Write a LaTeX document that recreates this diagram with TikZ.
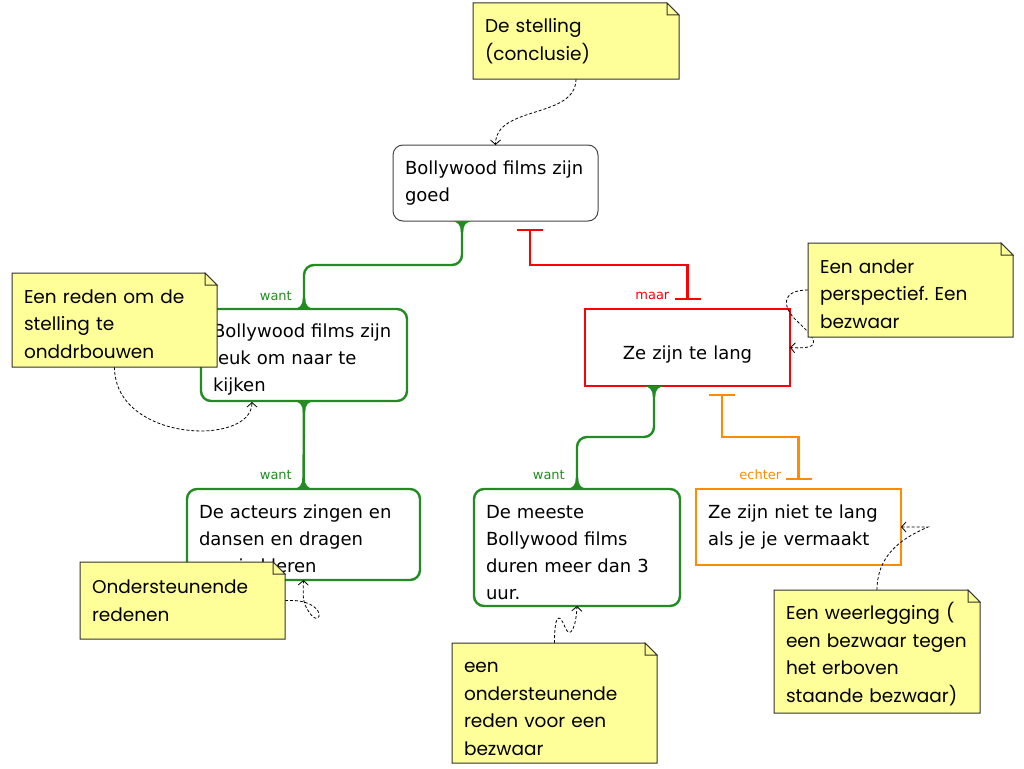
\documentclass[tikz,border=0pt]{standalone}
\usepackage{fontspec}
\setmainfont{DejaVu Sans}
\newfontfamily\notefont{Poppins}
\usetikzlibrary{arrows.meta,calc}
\definecolor{cgreen}{RGB}{34,139,34}
\definecolor{corange}{RGB}{255,140,0}
\definecolor{cred}{RGB}{255,0,0}
\definecolor{notefill}{RGB}{255,255,153}
\definecolor{noteline}{RGB}{50,50,50}
\definecolor{mainline}{RGB}{70,70,70}
\frenchspacing
\pgfdeclarelayer{nf}\pgfdeclarelayer{nt}\pgfsetlayers{main,nf,nt}
\newcommand\myflare[3]{\fill[#1,shift={#2},yscale=#3] (-12,0) .. controls (-4,0) and (-1.2,4) .. (-1.2,11) -- (1.2,11) .. controls (1.2,4) and (4,0) .. (12,0) -- cycle;}
\newcommand\noteshape[1]{%
  \filldraw[notebg] (#1.north west) -- ($(#1.north east)+(-12,0)$) -- ($(#1.north east)+(0,12)$) -- (#1.south east) -- (#1.south west) -- cycle;
  \filldraw[notebg] ($(#1.north east)+(-12,0)$) -- ($(#1.north east)+(-12,12)$) -- ($(#1.north east)+(0,12)$) -- cycle;}
\tikzset{
  noterule/.store in=\noterulesize, noterule=22pt,
  box/.style={anchor=north west, outer sep=0pt, inner xsep=12pt, inner ysep=3pt, align=left, font=\fontsize{18}{27}\selectfont},
  mainbox/.style={box, draw=mainline, line width=1pt, rounded corners=10pt},
  gbox/.style={box, draw=cgreen, line width=2.4pt, rounded corners=10pt, execute at begin node={\rule{0pt}{23pt}}},
  redbox/.style={box, draw=cred, line width=2.4pt, align=center, execute at begin node={\rule{0pt}{28pt}}},
  orbox/.style={box, draw=corange, line width=2.4pt},
  notetext/.style={anchor=north west, outer sep=0pt, inner xsep=12pt, inner ysep=3pt, align=left, font=\notefont\fontsize{18.5}{27.5}\selectfont, execute at begin node={\rule{0pt}{\noterulesize}}},
  shortnote/.style={noterule=8pt},
  notebg/.style={fill=notefill, draw=noteline, line width=1pt, line join=miter},
  gline/.style={draw=cgreen, line width=2.4pt, rounded corners=10pt},
  barline/.style={line width=2.4pt, {Bar[width=26pt]}-{Bar[width=26pt]}},
  lab/.style={font=\fontsize{13}{13}\selectfont, inner sep=0pt, anchor=east},
  notearrow/.style={black, line width=0.8pt, dash pattern=on 3pt off 2pt, -{Straight Barb[length=4.5pt,width=10pt]}}
}
\begin{document}
\begin{tikzpicture}[x=1pt,y=-1pt]
\useasboundingbox[fill=white] (0,0) rectangle (1024,768);
% main boxes
\node[mainbox, minimum width=205pt, minimum height=76pt, text width=181pt] (main) at (393,145) {Bollywood films zijn\\goed};
\node[gbox, minimum width=206pt, minimum height=92pt, text width=182pt] (n2) at (201,309) {Bollywood films zijn\\leuk om naar te\\kijken};
\node[gbox, minimum width=233pt, minimum height=91pt, text width=209pt] (n3) at (187,489) {De acteurs zingen en\\dansen en dragen\\mooie kleren};
\node[redbox, minimum width=205pt, minimum height=77pt, text width=181pt] (lang) at (585,309) {Ze zijn te lang};
\node[gbox, minimum width=206pt, minimum height=117pt, text width=182pt] (n4) at (474,489) {De meeste\\Bollywood films\\duren meer dan 3\\uur.};
\node[orbox, minimum width=205pt, minimum height=76pt, text width=181pt] (n5) at (696,489) {Ze zijn niet te lang\\als je je vermaakt};
% green connectors
\coordinate (g1s) at ($(main.south)+(-33.5,0)$);
\draw[gline] (g1s) -- ++(0,44) -| (n2.north);
\myflare{cgreen}{(g1s)}{1}
\myflare{cgreen}{(n2.north)}{-1}
\draw[gline] (n2.south) -- (n3.north);
\myflare{cgreen}{(n2.south)}{1}
\myflare{cgreen}{(n3.north)}{-1}
\coordinate (g3s) at ($(lang.south)+(-33.5,0)$);
\draw[gline] (g3s) -- ++(0,51) -| (n4.north);
\myflare{cgreen}{(g3s)}{1}
\myflare{cgreen}{(n4.north)}{-1}
% red and orange connectors
\coordinate (rs) at ($(main.south)+(34.5,8)$);
\coordinate (re) at ($(lang.north)+(0,-9)$);
\draw[barline, draw=cred] (rs) -- ++(0,36) -| (re);
\coordinate (os) at ($(lang.south)+(34.5,8)$);
\coordinate (oe) at ($(n5.north)+(0,-9)$);
\draw[barline, draw=corange] (os) -- ++(0,43) -| (oe);
% labels
\node[lab, text=cgreen] (l1) at ($(n2.north)+(-12,-13)$) {want};
\node[lab, text=cgreen] (l2) at ($(n3.north)+(-11.5,-14)$) {want};
\node[lab, text=cred] (l3) at ($(lang.north)+(-18,-13)$) {maar};
\node[lab, text=cgreen] (l4) at ($(n4.north)+(-12,-14)$) {want};
\node[lab, text=corange] (l5) at ($(n5.north)+(-17,-14)$) {echter};
% notes
\begin{pgfonlayer}{nt}
\node[notetext, shortnote, minimum width=206pt, minimum height=76pt, text width=182pt] (note1) at (473,3) {De stelling\\(conclusie)};
\node[notetext, minimum width=205pt, minimum height=94pt, text width=181pt] (note2) at (12,273) {Een reden om de\\stelling te\\onddrbouwen};
\node[notetext, shortnote, minimum width=205pt, minimum height=77pt, text width=181pt] (note3) at (80,562) {Ondersteunende\\redenen};
\node[notetext, minimum width=205pt, minimum height=94pt, text width=181pt] (note4) at (808,243) {Een ander\\perspectief. Een\\bezwaar};
\node[notetext, minimum width=205pt, minimum height=120pt, text width=181pt] (note5) at (452,643) {een\\ondersteunende\\reden voor een\\bezwaar};
\node[notetext, minimum width=206pt, minimum height=123pt, text width=182pt] (note6) at (774,590) {Een weerlegging (\\\mbox{een bezwaar tegen}\\het erboven\\staande bezwaar)};
\end{pgfonlayer}
\begin{pgfonlayer}{nf}
\noteshape{note1}
\noteshape{note2}
\noteshape{note3}
\noteshape{note4}
\noteshape{note5}
\noteshape{note6}
\end{pgfonlayer}
% note arrows
\draw[notearrow] (note1.south) .. controls +(0,40) and +(0,-40) .. (main.north);
\draw[notearrow] (note2.south) .. controls +(0,75) and +(0,45) .. ($(n2.south)+(-52,1)$);
\draw[notearrow] (note3.east) .. controls (330,598) and (322,632) .. (309,612) .. controls (302,602) and (303,595) .. (n3.south);
\draw[notearrow] (note4.west) .. controls (780,290) and (782,308) .. (798,322) .. controls (815,338) and (825,350) .. (lang.east);
\draw[notearrow] (note5.north) .. controls +(0,-25) and (558,610) .. (565,627) .. controls (570,640) and (576,628) .. (n4.south);
\draw[notearrow] (note6.north) .. controls +(0,-40) and (910,535) .. (928,527) -- (n5.east);
\end{tikzpicture}
\end{document}
